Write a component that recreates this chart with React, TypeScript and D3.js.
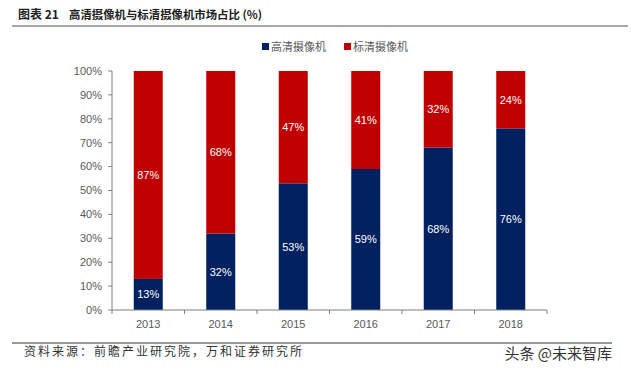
import React from "react";
import * as d3 from "d3";

const years = ["2013", "2014", "2015", "2016", "2017", "2018"];
const hdShare = [13, 32, 53, 59, 68, 76];
const sdShare = [87, 68, 47, 41, 32, 24];
const yTicks = [0, 10, 20, 30, 40, 50, 60, 70, 80, 90, 100];
const seriesNames = ["高清摄像机", "标清摄像机"];
const colors = ["#002060", "#C00000"];

const W = 640;
const H = 376;
const M = { left: 112, right: 547, top: 71, bottom: 310 };

export default function App() {
  const y = d3.scaleLinear().domain([0, 100]).range([M.bottom, M.top]);
  const step = (M.right - M.left) / years.length;
  const serif = "'Noto Sans CJK SC', sans-serif";
  const tickFont = "'Liberation Sans', Tahoma, sans-serif";
  const bw = 29;

  return (
    <div style={{ margin: -8, width: W, height: H, background: "#fff" }}>
      <svg width={W} height={H} style={{ display: "block" }}>
        <rect width={W} height={H} fill="#fff" />
        {/* title */}
        <text x={18} y={19} fontFamily={serif} fontWeight="bold" fontSize={12} fill="#222">
          图表 21
        </text>
        <text x={69} y={19} fontFamily={serif} fontWeight="bold" fontSize={11.4} fill="#222">
          高清摄像机与标清摄像机市场占比 (%)
        </text>
        <line x1={12} x2={628} y1={26} y2={26} stroke="#555" strokeWidth={1.2} />

        {/* legend */}
        {seriesNames.map((n, i) => {
          const lx = 262 + i * 82;
          return (
            <g key={n}>
              <rect x={lx} y={43} width={7} height={7} fill={colors[i]} />
              <text x={lx + 9} y={50.5} fontFamily={serif} fontSize={11} fill="#595959">
                {n}
              </text>
            </g>
          );
        })}

        {/* y axis */}
        <line x1={M.left} x2={M.left} y1={M.top} y2={M.bottom} stroke="#7f7f7f" />
        {yTicks.map((t) => (
          <g key={t}>
            <line x1={M.left - 4} x2={M.left} y1={y(t)} y2={y(t)} stroke="#7f7f7f" />
            <text x={102} y={y(t)} dy="0.35em" textAnchor="end" fontFamily={tickFont} fontSize={11} fill="#595959">
              {t}%
            </text>
          </g>
        ))}

        {/* bars */}
        {years.map((yr, i) => {
          const cx = M.left + step * (i + 0.5);
          const hdTop = y(hdShare[i]);
          const sdTop = y(hdShare[i] + sdShare[i]);
          return (
            <g key={yr}>
              <rect x={cx - bw / 2} y={hdTop} width={bw} height={M.bottom - hdTop} fill={colors[0]} />
              <rect x={cx - bw / 2} y={sdTop} width={bw} height={hdTop - sdTop} fill={colors[1]} />
              <text x={cx} y={(hdTop + M.bottom) / 2} dy="0.35em" textAnchor="middle" fontFamily={tickFont} fontSize={11} fill="#fff">
                {hdShare[i]}%
              </text>
              <text x={cx} y={(hdTop + sdTop) / 2} dy="0.35em" textAnchor="middle" fontFamily={tickFont} fontSize={11} fill="#fff">
                {sdShare[i]}%
              </text>
            </g>
          );
        })}

        {/* x axis */}
        <line x1={M.left} x2={M.right} y1={M.bottom} y2={M.bottom} stroke="#7f7f7f" />
        {d3.range(years.length + 1).map((k) => (
          <line key={k} x1={M.left + step * k} x2={M.left + step * k} y1={M.bottom} y2={M.bottom + 4} stroke="#7f7f7f" />
        ))}
        {years.map((yr, i) => (
          <text key={yr} x={M.left + step * (i + 0.5)} y={324} dy="0.35em" textAnchor="middle" fontFamily={tickFont} fontSize={11} fill="#595959">
            {yr}
          </text>
        ))}

        {/* footer */}
        <line x1={12} x2={612} y1={343} y2={343} stroke="#333" strokeWidth={1} />
        <text x={24} y={356} fontFamily={serif} fontSize={12} letterSpacing={2} fill="#333">
          资料来源：前瞻产业研究院，万和证券研究所
        </text>
        <text x={612} y={359} textAnchor="end" fontFamily={serif} fontSize={15} fill="#333">
          头条 @未来智库
        </text>
      </svg>
    </div>
  );
}
